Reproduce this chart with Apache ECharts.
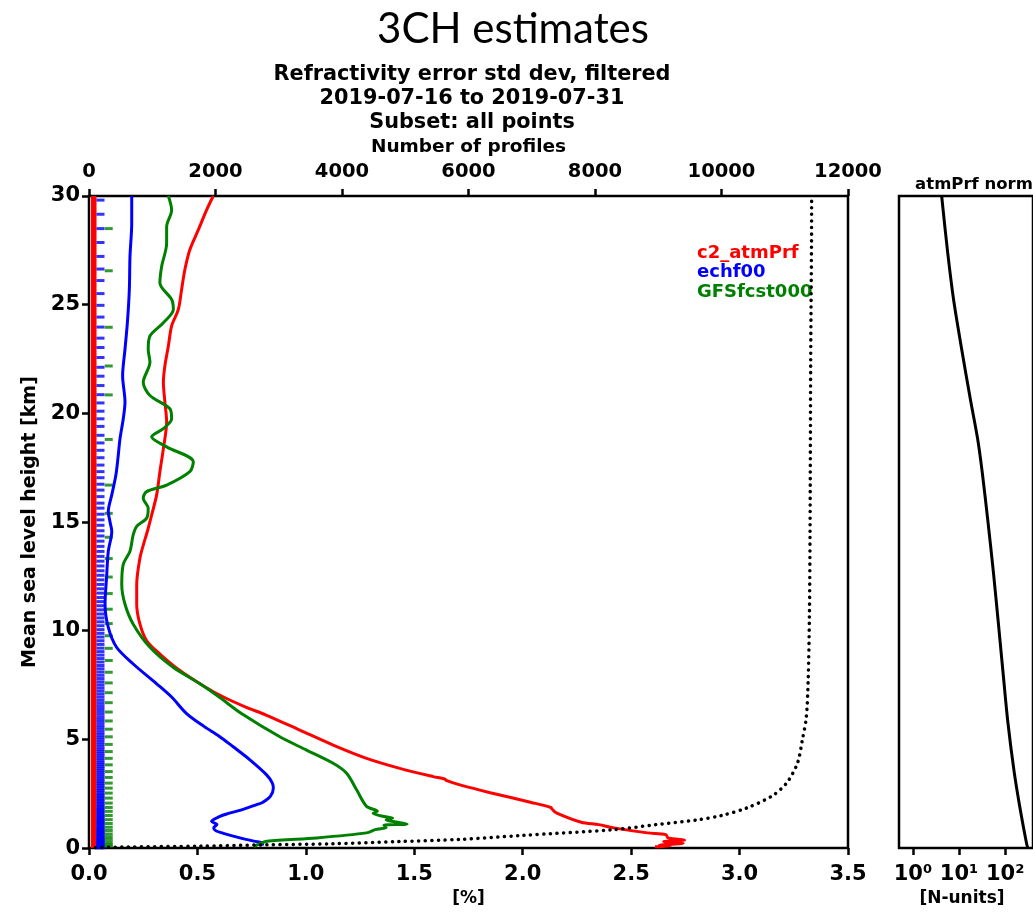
<!DOCTYPE html>
<html>
<head>
<meta charset="utf-8">
<title>3CH estimates</title>
<script src="https://cdn.jsdelivr.net/npm/echarts@6/dist/echarts.min.js"></script>
<style>
  html, body { margin: 0; padding: 0; background: #fff; }
  #chart { width: 1033px; height: 912px; }
</style>
</head>
<body>
<div id="chart"></div>
<script>
// ---- Refractivity error std dev profiles: [percent, height km] ----
const atmPrfStd = [
  [0.573, 30.0], [0.542, 29.35], [0.504, 28.44], [0.465, 27.53], [0.442, 26.61],
  [0.427, 25.7], [0.412, 24.78], [0.381, 24.02], [0.366, 23.1], [0.350, 22.19],
  [0.343, 21.43], [0.350, 20.52], [0.358, 19.6], [0.343, 18.38], [0.327, 17.32],
  [0.312, 16.25], [0.289, 15.33], [0.270, 14.6], [0.252, 14.0], [0.235, 13.35],
  [0.220, 12.13], [0.220, 11.22], [0.235, 10.3], [0.266, 9.54], [0.327, 8.93],
  [0.419, 8.17], [0.530, 7.45], [0.620, 6.95], [0.720, 6.5], [0.819, 6.11],
  [0.972, 5.43], [1.126, 4.74], [1.280, 4.13], [1.433, 3.67], [1.587, 3.29],
  [1.640, 3.18], [1.650, 3.1], [1.710, 2.91], [1.850, 2.55], [2.040, 2.1],
  [2.130, 1.87], [2.135, 1.8], [2.155, 1.62], [2.270, 1.19], [2.350, 1.08],
  [2.420, 0.93], [2.575, 0.7], [2.660, 0.62], [2.670, 0.47], [2.747, 0.37],
  [2.650, 0.3], [2.740, 0.22], [2.630, 0.14], [2.680, 0.1], [2.610, 0.06]
];
const echf00Std = [
  [0.197, 30.0], [0.197, 28.75], [0.189, 27.22], [0.186, 25.7], [0.177, 24.17],
  [0.166, 22.95], [0.155, 21.73], [0.166, 20.52], [0.158, 19.75], [0.143, 18.84],
  [0.135, 18.08], [0.124, 17.16], [0.105, 16.25], [0.089, 15.49], [0.097, 15.0],
  [0.105, 14.57], [0.089, 13.66], [0.081, 12.44], [0.074, 11.22], [0.089, 10.15],
  [0.127, 9.24], [0.204, 8.47], [0.312, 7.56], [0.381, 6.95], [0.450, 6.19],
  [0.530, 5.6], [0.600, 5.15], [0.665, 4.66], [0.742, 4.06], [0.819, 3.37],
  [0.845, 3.0], [0.850, 2.75], [0.836, 2.38], [0.800, 2.1], [0.773, 2.0],
  [0.700, 1.75], [0.635, 1.57], [0.604, 1.46], [0.565, 1.23], [0.590, 1.08],
  [0.575, 0.93], [0.585, 0.8], [0.620, 0.68], [0.696, 0.47], [0.760, 0.32],
  [0.800, 0.24], [0.800, 0.12]
];
const gfsStd = [
  [0.366, 30.0], [0.381, 29.35], [0.358, 28.59], [0.358, 27.83], [0.335, 26.76],
  [0.327, 26.0], [0.381, 25.24], [0.389, 24.78], [0.343, 24.17], [0.281, 23.56],
  [0.273, 22.95], [0.281, 22.35], [0.250, 21.43], [0.281, 20.82], [0.373, 20.21],
  [0.381, 19.75], [0.343, 19.3], [0.289, 18.92], [0.358, 18.46], [0.481, 17.77],
  [0.465, 17.32], [0.358, 16.7], [0.266, 16.4], [0.250, 16.1], [0.273, 15.64],
  [0.266, 15.18], [0.220, 14.8], [0.204, 14.42], [0.189, 13.66], [0.158, 13.05],
  [0.151, 12.13], [0.166, 11.22], [0.204, 10.3], [0.281, 9.24], [0.388, 8.32],
  [0.512, 7.56], [0.600, 6.95], [0.703, 6.19], [0.880, 5.12], [1.003, 4.51],
  [1.126, 3.9], [1.188, 3.44], [1.234, 2.68], [1.280, 1.92], [1.330, 1.7],
  [1.310, 1.6], [1.360, 1.45], [1.400, 1.38], [1.370, 1.3], [1.467, 1.11],
  [1.360, 1.05], [1.370, 0.95], [1.320, 0.85], [1.280, 0.7], [1.050, 0.47],
  [0.820, 0.32], [0.780, 0.17], [0.760, 0.06]
];

// Number of profiles per height: [count, height km]
const profileCount = [
  [100, 0.02], [600, 0.05], [1750, 0.09], [2800, 0.15], [3850, 0.2],
  [4900, 0.3], [5870, 0.4], [6830, 0.58], [8300, 0.85], [8960, 1.08],
  [9620, 1.3], [10000, 1.5], [10400, 1.85], [10800, 2.4], [11030, 3.0],
  [11200, 3.9], [11280, 5.0], [11340, 6.0], [11370, 7.7], [11390, 10.7],
  [11400, 14.6], [11410, 22.4], [11425, 29.7], [11425, 30.0]
];

// Vertical levels of each data set (km)
const atmPrfLevelSpan = [0, 30];
const echLevels = [
  29.81, 29.16, 28.50, 27.86, 27.22, 26.64, 26.11, 25.51, 24.97, 24.43,
  23.97, 23.46, 23.03, 22.57, 22.12, 21.71, 21.28, 20.86, 20.48, 20.10,
  19.75, 19.40, 18.99, 18.64, 18.30, 17.96, 17.62, 17.32, 17.04, 16.74,
  16.47, 16.17, 15.87, 15.64, 15.36, 15.10, 14.85, 14.60, 14.36, 14.12,
  13.88, 13.65, 13.42, 13.20, 12.98, 12.76, 12.55, 12.34, 12.13, 11.93,
  11.73, 11.53, 11.34, 11.15, 10.96, 10.77, 10.59, 10.41, 10.23, 10.05,
  9.88, 9.71, 9.54, 9.37, 9.20, 9.04, 8.88, 8.72, 8.56, 8.40,
  8.25, 8.10, 7.95, 7.80, 7.65, 7.51, 7.37, 7.23, 7.09, 6.95,
  6.81, 6.68, 6.55, 6.42, 6.29, 6.16, 6.03, 5.91, 5.79, 5.67,
  5.55, 5.43, 5.31, 5.20, 5.09, 4.98, 4.87, 4.76, 4.65, 4.54,
  4.44, 4.34, 4.24, 4.14, 4.04, 3.94, 3.85, 3.76, 3.67, 3.58,
  3.49, 3.40, 3.31, 3.22, 3.13, 3.05, 2.97, 2.89, 2.81, 2.73,
  2.65, 2.57, 2.49, 2.42, 2.35, 2.28, 2.21, 2.14, 2.07, 2.00,
  1.93, 1.86, 1.80, 1.74, 1.68, 1.62, 1.56, 1.50, 1.44, 1.38,
  1.33, 1.28, 1.23, 1.18, 1.13, 1.08, 1.03, 0.98, 0.93, 0.88,
  0.84, 0.80, 0.76, 0.72, 0.68, 0.64, 0.60, 0.56, 0.52, 0.48,
  0.44, 0.41, 0.38, 0.35, 0.32, 0.29, 0.26, 0.23, 0.20, 0.17,
  0.14, 0.11, 0.08, 0.05, 0.03, 0.01
];
const gfsLevels = [
  28.50, 26.56, 23.96, 22.18, 20.85, 18.80, 16.70, 15.40, 14.30, 13.32,
  12.47, 11.71, 10.99, 10.33, 9.77, 9.19, 8.63, 8.09, 7.60, 7.15,
  6.69, 6.26, 5.85, 5.47, 5.12, 4.77, 4.44, 4.13, 3.83, 3.52,
  3.25, 2.99, 2.76, 2.53, 2.30, 2.07, 1.87, 1.69, 1.50, 1.31,
  1.13, 0.96, 0.81, 0.65, 0.52, 0.40, 0.27, 0.17, 0.09
];
// Column positions of the level markers on the [%] axis
const atmPrfLevelX = 0.022;
const echLevelX = 0.053;
const gfsLevelX = 0.091;

// atmPrf refractivity norm: [N-units, height km]
const atmPrfNorm = [
  [4.2, 30.0], [5.6, 27.5], [7.65, 25.2], [11.4, 22.95], [17.5, 20.67],
  [25.2, 18.84], [32, 17.24], [42.6, 14.95], [55.6, 12.67], [70.8, 10.38],
  [89.6, 8.09], [114, 5.8], [156, 3.52], [215, 1.69], [291, 0.2], [310, 0.0]
];

// Axis ticks and legend entries
const pctTicks = [0, 3.5, 0.5];
const countTicks = [0, 12000, 2000];
const heightTicks = [0, 30, 5];
const normTicks = [1, 10, 100];
const legendItems = [
  { name: 'c2_atmPrf', color: '#ff0000' },
  { name: 'echf00', color: '#0000ff' },
  { name: 'GFSfcst000', color: '#008000' }
];

const FONT = '"DejaVu Sans", "Liberation Sans", sans-serif';
const sup = { 0: '\u2070', 1: '\u00b9', 2: '\u00b2', 3: '\u00b3' };

const tickStyle = { show: true, inside: false, length: 7, lineStyle: { color: '#000', width: 2.5 } };
const labelStyle = { color: '#000', fontFamily: FONT, fontWeight: 'bold', fontSize: 21 };

const chart = echarts.init(document.getElementById('chart'), null, { renderer: 'canvas' });

const option = {
  animation: false,
  backgroundColor: '#fff',
  title: [
    {
      text: '3CH estimates', left: 508, top: 3, textAlign: 'center',
      textStyle: { fontFamily: 'Lato, "Open Sans", sans-serif', fontWeight: 'normal', fontSize: 42, color: '#000' }
    },
    {
      text: 'Refractivity error std dev, filtered\n2019-07-16 to 2019-07-31\nSubset: all points',
      left: 467, top: 58, textAlign: 'center',
      textStyle: { fontFamily: FONT, fontWeight: 'bold', fontSize: 20.8, lineHeight: 24, color: '#000' }
    },
    {
      text: 'atmPrf norm', left: 969, top: 171, textAlign: 'center',
      textStyle: { fontFamily: FONT, fontWeight: 'bold', fontSize: 16.5, color: '#000' }
    }
  ],
  grid: [
    { left: 89, top: 196, width: 759, height: 656, show: true, borderColor: '#000', borderWidth: 2.5, backgroundColor: 'transparent' },
    { left: 899, top: 196, width: 140, height: 656, show: true, borderColor: '#000', borderWidth: 2.5, backgroundColor: 'transparent' }
  ],
  xAxis: [
    {
      gridIndex: 0, type: 'value', position: 'bottom',
      min: pctTicks[0], max: pctTicks[1], interval: pctTicks[2],
      axisLine: { show: false }, splitLine: { show: false }, axisTick: tickStyle,
      axisLabel: Object.assign({ margin: 16, formatter: v => v.toFixed(1) }, labelStyle),
      name: '[%]', nameLocation: 'middle', nameGap: 39,
      nameTextStyle: { color: '#000', fontFamily: FONT, fontWeight: 'bold', fontSize: 17 }
    },
    {
      gridIndex: 0, type: 'value', position: 'top',
      min: countTicks[0], max: countTicks[1], interval: countTicks[2],
      axisLine: { show: false }, splitLine: { show: false }, axisTick: tickStyle,
      axisLabel: Object.assign({ margin: 14 }, labelStyle, { fontSize: 19.5, formatter: v => String(v) }),
      name: 'Number of profiles', nameLocation: 'middle', nameGap: 36,
      nameTextStyle: { color: '#000', fontFamily: FONT, fontWeight: 'bold', fontSize: 18.5 }
    },
    {
      gridIndex: 1, type: 'log', logBase: 10, position: 'bottom',
      min: 0.5, max: 400,
      axisLine: { show: false }, splitLine: { show: false }, minorTick: { show: false },
      axisTick: Object.assign({ customValues: normTicks }, tickStyle),
      axisLabel: Object.assign({
        margin: 16, customValues: normTicks,
        formatter: v => '10' + sup[Math.round(Math.log10(v))]
      }, labelStyle),
      name: '[N-units]', nameLocation: 'middle', nameGap: 39,
      nameTextStyle: { color: '#000', fontFamily: FONT, fontWeight: 'bold', fontSize: 17, padding: [0, 0, 0, -8] }
    }
  ],
  yAxis: [
    {
      gridIndex: 0, type: 'value', min: heightTicks[0], max: heightTicks[1], interval: heightTicks[2],
      axisLine: { show: false }, splitLine: { show: false }, axisTick: tickStyle,
      axisLabel: Object.assign({ margin: 9 }, labelStyle),
      name: 'Mean sea level height [km]', nameLocation: 'middle', nameGap: 43, nameRotate: 90,
      nameTextStyle: { color: '#000', fontFamily: FONT, fontWeight: 'bold', fontSize: 19 }
    },
    {
      gridIndex: 1, type: 'value', min: heightTicks[0], max: heightTicks[1],
      axisLine: { show: false }, splitLine: { show: false },
      axisTick: { show: false }, axisLabel: { show: false }
    }
  ],
  graphic: legendItems.map((item, i) => ({
    type: 'text', left: 697, top: 244 + i * 19.5, silent: true,
    style: { text: item.name, fill: item.color, font: 'bold 18px ' + FONT }
  })),
  series: [
    {
      name: 'c2_atmPrf levels', type: 'line', xAxisIndex: 0, yAxisIndex: 0,
      data: atmPrfLevelSpan.map(h => [atmPrfLevelX, h]),
      showSymbol: false, lineStyle: { color: '#ff0000', width: 5.5 }, silent: true, z: 3
    },
    {
      name: 'echf00 levels', type: 'scatter', xAxisIndex: 0, yAxisIndex: 0,
      data: echLevels.map(h => [echLevelX, h]),
      symbol: 'rect', symbolSize: [8, 3], itemStyle: { color: '#0000ff' }, silent: true, z: 3
    },
    {
      name: 'GFSfcst000 levels', type: 'scatter', xAxisIndex: 0, yAxisIndex: 0,
      data: gfsLevels.map(h => [gfsLevelX, h]),
      symbol: 'rect', symbolSize: [8, 3], itemStyle: { color: '#008000' }, silent: true, z: 3
    },
    {
      name: 'c2_atmPrf', type: 'line', xAxisIndex: 0, yAxisIndex: 0, data: atmPrfStd,
      showSymbol: false, smooth: 0.3, lineStyle: { color: '#ff0000', width: 3 }, z: 4
    },
    {
      name: 'echf00', type: 'line', xAxisIndex: 0, yAxisIndex: 0, data: echf00Std,
      showSymbol: false, smooth: 0.3, lineStyle: { color: '#0000ff', width: 3 }, z: 4
    },
    {
      name: 'GFSfcst000', type: 'line', xAxisIndex: 0, yAxisIndex: 0, data: gfsStd,
      showSymbol: false, smooth: 0.3, lineStyle: { color: '#008000', width: 3 }, z: 4
    },
    {
      name: 'Number of profiles', type: 'line', xAxisIndex: 1, yAxisIndex: 0, data: profileCount,
      showSymbol: false, smooth: 0.3,
      lineStyle: { color: '#000', width: 3.5, type: [0.1, 6.5], cap: 'round' }, z: 4
    },
    {
      name: 'atmPrf norm', type: 'line', xAxisIndex: 2, yAxisIndex: 1, data: atmPrfNorm,
      showSymbol: false, smooth: 0.3, lineStyle: { color: '#000', width: 3 }, z: 4
    }
  ]
};

chart.setOption(option);
</script>
</body>
</html>
